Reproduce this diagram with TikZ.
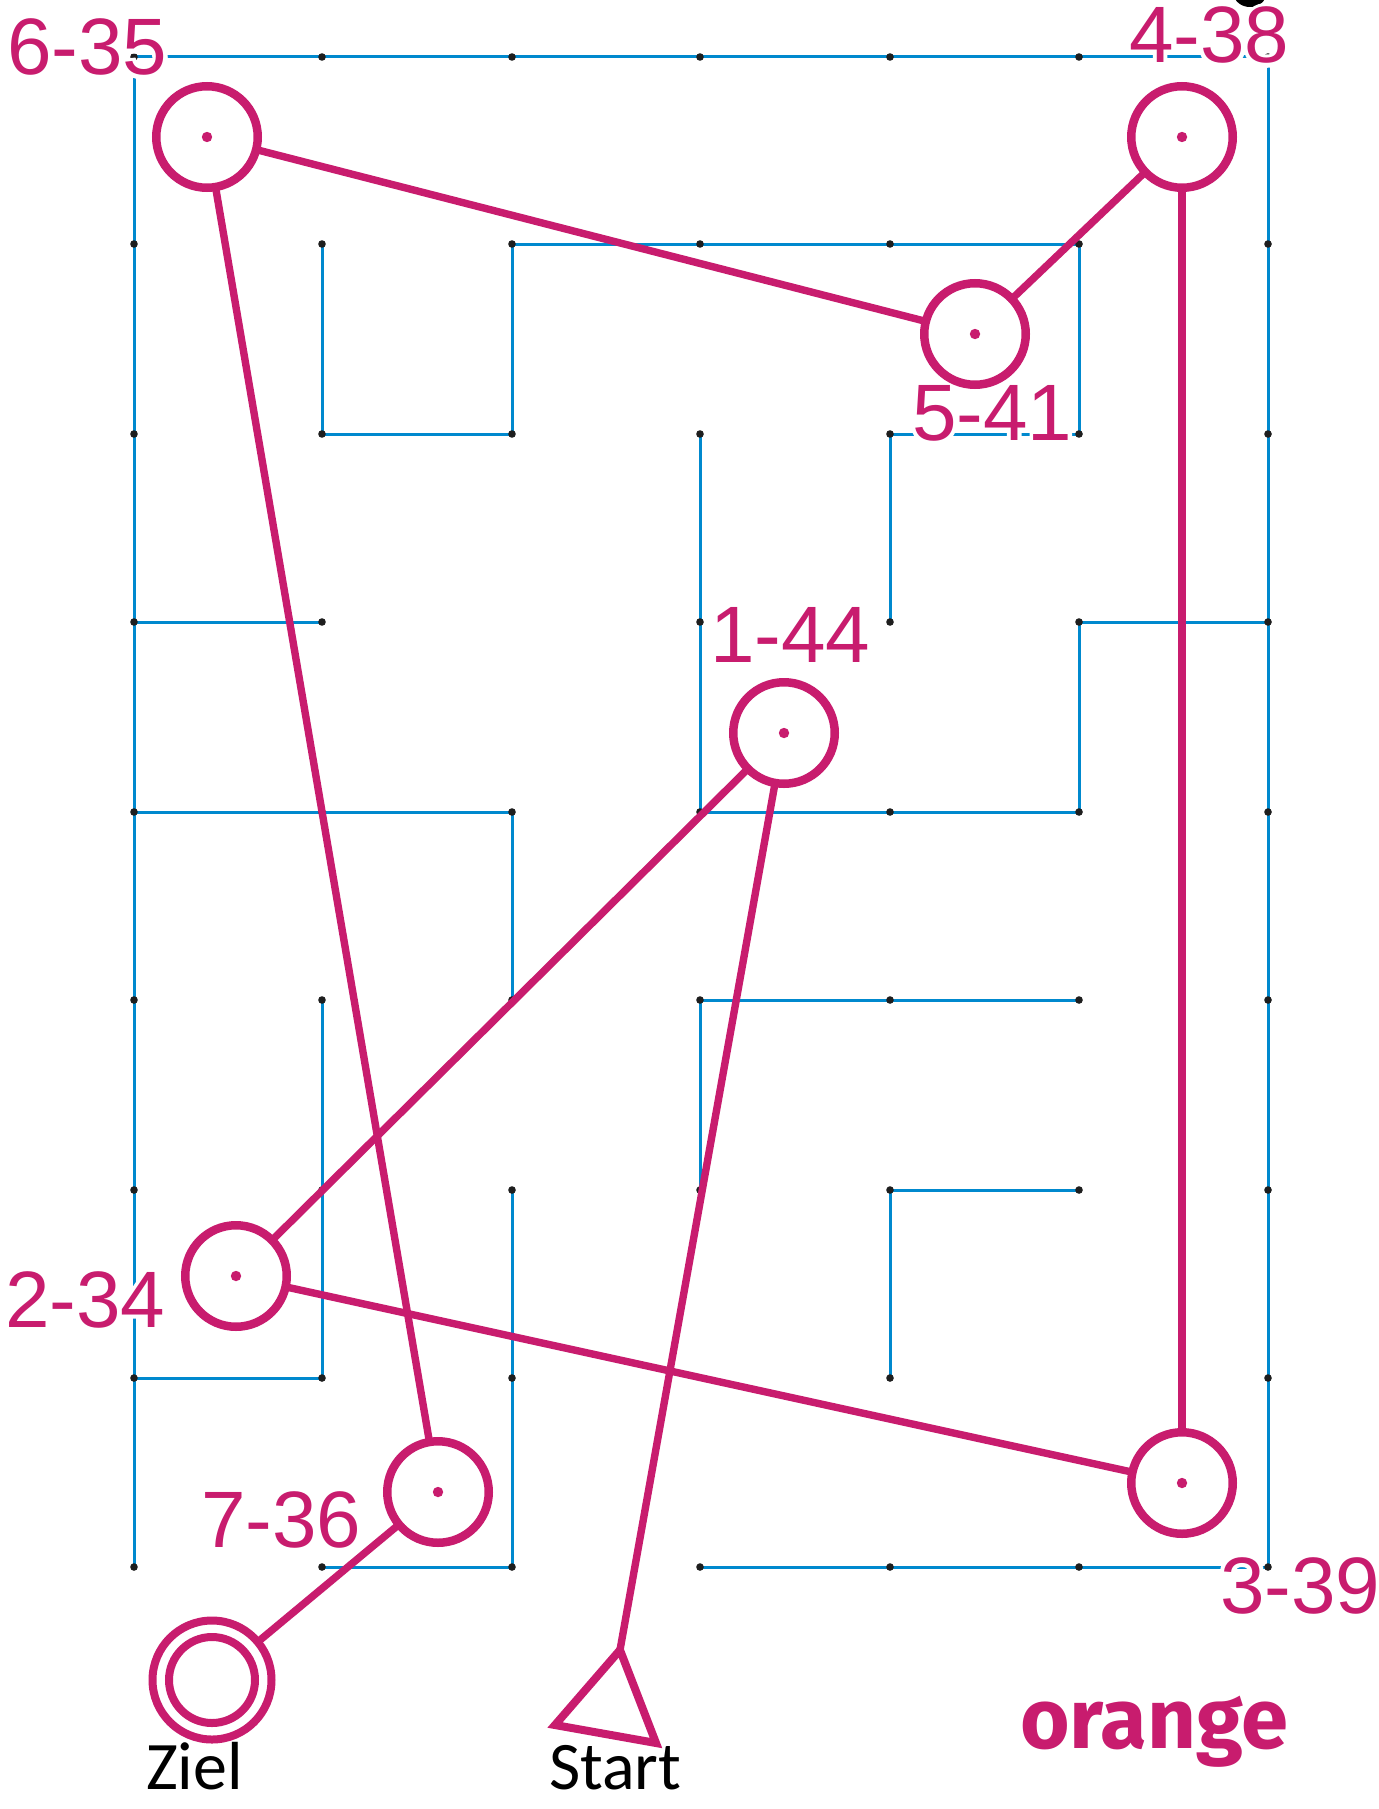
\documentclass[tikz,border=0pt]{standalone}
\usepackage{fontspec}
\setmainfont{Liberation Sans}
\newfontfamily\labfont{Liberation Sans}
\newfontfamily\halofont{Liberation Sans}[FakeBold=10]
\newfontfamily\txtfont{Carlito}
\newfontfamily\orgfont{Fira Sans}
\definecolor{mag}{RGB}{200,28,110}
\definecolor{mazeblue}{RGB}{0,137,206}
\definecolor{dotblack}{RGB}{30,30,30}
\newcommand{\maglabel}[4]{%
  \node[lab,text=white,font=\halofont\fontsize{40}{40}\selectfont] (#1h) at (#2,#3) {#4};
  \node[lab] (#1) at (#2,#3) {#4};
}
\begin{document}
\begin{tikzpicture}[x=0.5pt,y=-0.5pt,
  maze/.style={draw=mazeblue,line width=1.5pt,line join=miter},
  gdot/.style={fill=dotblack},
  ctrl/.style={circle,draw=mag,line width=4.25pt,minimum size=50.75pt,inner sep=0pt,outer sep=0pt},
  leg/.style={draw=mag,line width=3.7pt},
  lab/.style={anchor=base west,inner sep=0pt,outer sep=0pt,text=mag,font=\labfont\fontsize{40}{40}\selectfont},
  plain/.style={anchor=base west,inner sep=0pt,outer sep=0pt,text depth=0pt,text=black,font=\txtfont\fontsize{34}{34}\selectfont}
]
\fill[white] (0,0) rectangle (1378,1809);
\useasboundingbox (0,0) rectangle (1378,1809);

% grid points
\foreach \xx [count=\i from 0] in {134,322,512,700,890,1079,1268}{
  \foreach \yy [count=\j from 0] in {57,244,434,622,812,1000,1190,1378,1567}{
    \coordinate (g\i\j) at (\xx,\yy);
  }
}

% maze walls
\draw[maze] (g00) -- (g60);
\draw[maze] (g00) -- (g08);
\draw[maze] (g60) -- (g68);
\draw[maze] (g18) -- (g28);
\draw[maze] (g38) -- (g68);
\draw[maze] (g11) -- (g12) -- (g22) -- (g21) -- (g51) -- (g52) -- (g42) -- (g43);
\draw[maze] (g32) -- (g34) -- (g54) -- (g53) -- (g63);
\draw[maze] (g03) -- (g13);
\draw[maze] (g04) -- (g24) -- (g25);
\draw[maze] (g15) -- (g17) -- (g07);
\draw[maze] (g26) -- (g28);
\draw[maze] (g55) -- (g35) -- (g36);
\draw[maze] (g56) -- (g46) -- (g47);

% grid dots
\foreach \i in {0,...,6}{
  \foreach \j in {0,...,8}{
    \pgfmathtruncatemacro\skipdot{(\i==2 && \j==3) || (\i==3 && \j==7) || (\i==5 && \j==7)}
    \ifnum\skipdot=0 \fill[gdot] (g\i\j) circle[radius=1.9pt];\fi
  }
}

% cropped mark at top
\fill[black] (1250,-6) ellipse[x radius=8pt,y radius=6.5pt];

% labels
\maglabel{l635}{7}{75}{6-35}
\maglabel{l438}{1129}{63}{4-38}
\maglabel{l541}{912}{440}{5-41}
\maglabel{l144}{710}{662}{1-44}
\maglabel{l234}{5}{1327}{2-34}
\maglabel{l736}{201}{1547}{7-36}
\maglabel{l339}{1220}{1613}{3-39}

% controls
\node[ctrl] (k1) at (784,733) {};
\node[ctrl] (k2) at (236,1276) {};
\node[ctrl] (k3) at (1182,1483) {};
\node[ctrl] (k4) at (1182,137) {};
\node[ctrl] (k5) at (975,334) {};
\node[ctrl] (k6) at (207,137) {};
\node[ctrl] (k7) at (438,1492) {};
\foreach \k in {1,...,7} \fill[mag] (k\k.center) circle[radius=2.6pt];

% finish
\node[circle,draw=mag,line width=4pt,minimum size=59.5pt,inner sep=0pt,outer sep=0pt] (ziel) at (212,1680) {};
\draw[mag,line width=4pt] (ziel.center) circle[radius=21.5pt];

% start triangle
\coordinate (st1) at (620,1650);
\coordinate (st2) at (555,1725);
\coordinate (st3) at (656,1743);
\draw[mag,line width=4pt,line join=miter] (st1) -- (st2) -- (st3) -- cycle;

% legs
\draw[leg] (st1) -- (k1);
\draw[leg] (k1) -- (k2);
\draw[leg] (k2) -- (k3);
\draw[leg] (k3) -- (k4);
\draw[leg] (k4) -- (k5);
\draw[leg] (k5) -- (k6);
\draw[leg] (k6) -- (k7);
\draw[leg] (k7) -- (ziel);

% texts
\node[plain] (zieltxt) at (146,1789) {Ziel};
\node[plain] (starttxt) at (549,1789) {Start};
\node[anchor=base west,inner sep=0pt,outer sep=0pt,text=mag,font=\orgfont\bfseries\fontsize{42.5}{42.5}\selectfont] (orangetxt) at (1020,1748) {orange};
\end{tikzpicture}
\end{document}
